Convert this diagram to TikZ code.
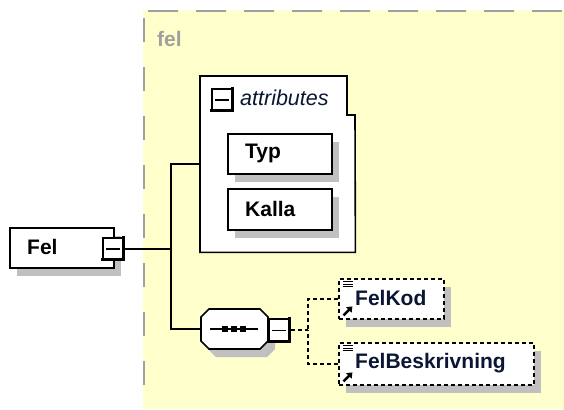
\documentclass[tikz,border=0pt]{standalone}
\usepackage{fontspec}
\setmainfont{Liberation Sans}
\usetikzlibrary{shadows,arrows.meta}

\definecolor{schemabg}{HTML}{FFFFCC}
\definecolor{framegray}{HTML}{A0A0A0}
\definecolor{shadowgray}{HTML}{C0C0C0}
\definecolor{ink}{HTML}{0A1633}

\tikzset{
  box/.style={draw=black, line width=1.6pt, fill=white, inner sep=0pt, anchor=north west},
  shadowed/.style={general shadow={fill=shadowgray, shadow xshift=7pt, shadow yshift=-8pt}},
  optbox/.style={box, line width=1.8pt, dash pattern=on 4pt off 3pt},
  elemicon/.style={path picture={
      \foreach \k in {3,5.5,8}
        \draw[solid, line width=1pt] ([xshift=4pt,yshift=-\k pt]path picture bounding box.north west) -- ++(10pt,0pt);
      \draw[solid, line width=2.4pt, -{Triangle[length=5pt,width=7.5pt]}]
        ([xshift=4.5pt,yshift=3.5pt]path picture bounding box.south west) -- ++(9pt,9pt);
  }},
  toggle/.style={box, minimum width=21pt, minimum height=22pt},
  ename/.style={font=\fontsize{21}{24}\selectfont\bfseries, text=ink, inner sep=0pt, anchor=west},
  link/.style={draw=black, line width=1.6pt},
  optlink/.style={link, line width=1.7pt, dash pattern=on 4pt off 3pt},
}

% minus sign and heavy lower-right edge of an expand/collapse button
\newcommand\togglemarks[1]{%
  \draw[line width=1.6pt] ([xshift=4pt]#1.west) -- ([xshift=-5pt]#1.east);
  \draw[line width=3.5pt] ([xshift=-1pt,yshift=0.8pt]#1.north east)
    -- ([xshift=-1pt,yshift=1pt]#1.south east) -- ([xshift=-0.8pt,yshift=1pt]#1.south west);}

\begin{document}
\begin{tikzpicture}[x=1pt, y=-1pt]
  \useasboundingbox (0,0) rectangle (564,409);

  % complex type area
  \fill[schemabg] (143,10) rectangle (564,409);
  \draw[framegray, line width=2pt, dash pattern=on 30pt off 18pt] (148,11) -- (564,11);
  \draw[framegray, line width=2pt, dash pattern=on 24pt off 25pt] (144,18) -- (144,409);
  \node[font=\fontsize{21}{24}\selectfont\bfseries, text=framegray, inner sep=0pt, anchor=west] (typename) at (157,39) {fel};

  % root element
  \node[box, shadowed, minimum width=104pt, minimum height=40pt] (fel) at (9,227) {};
  \node[ename, text=black] (feltext) at (27,247) {Fel};
  \node[toggle] (felm) at (102,237) {};
  \togglemarks{felm}

  % attributes group
  \node[inner sep=0pt, minimum width=155pt, minimum height=176pt, anchor=north west] (attr) at (200,76) {};
  \draw[fill=white, line width=1.6pt] (attr.north west) -- ++(147pt,0pt) -- ++(0pt,-39pt) -- ++(8pt,0pt)
    -- (attr.south east) -- (attr.south west) -- cycle;
  \node[toggle] (attrm) at (211,88) {};
  \togglemarks{attrm}
  \node[font=\fontsize{21.5}{24}\selectfont\itshape, text=ink, inner sep=0pt, anchor=west] (attrtext) at (240,98) {attributes};

  \node[box, shadowed, minimum width=104pt, minimum height=40pt] (typ) at (227,133) {};
  \node[ename, text=black] (typtext) at (245,153) {Typ};
  \node[box, shadowed, minimum width=104pt, minimum height=41pt] (kalla) at (227,188) {};
  \node[ename, text=black] (kallatext) at (245,209) {Kalla};

  % sequence compositor
  \node[inner sep=0pt, minimum width=67pt, minimum height=40pt, anchor=north west] (seq) at (201,309) {};
  \fill[shadowgray] (216,317) -- (267,317) -- (275,325) -- (275,349) -- (267,357) -- (216,357) -- (208,349) -- (208,325) -- cycle;
  \draw[fill=white, line width=1.6pt] (209,309) -- (260,309) -- (268,317) -- (268,341) -- (260,349) -- (209,349) -- (201,341) -- (201,317) -- cycle;
  \draw[line width=1.6pt] (210,329) -- (258,329);
  \foreach \cx in {225,234,243}
    \fill (\cx-3,326) rectangle (\cx+3,332);
  \node[toggle, minimum height=23pt] (seqm) at (268,318) {};
  \togglemarks{seqm}

  % optional child elements
  \node[optbox, shadowed, elemicon, minimum width=105pt, minimum height=40pt] (felkod) at (338,278) {};
  \node[ename] (felkodtext) at (355,298) {FelKod};
  \node[optbox, shadowed, elemicon, minimum width=195pt, minimum height=42pt] (felbesk) at (338,342) {};
  \node[ename] (felbesktext) at (355,363) {FelBeskrivning};

  % connectors
  \coordinate (trunk) at (171,0);
  \coordinate (branch) at (308,0);
  \draw[link] (felm.east) -- (felm.east -| trunk);
  \draw[link] (attr.west) -| (trunk |- seq.west) -- (seq.west);
  \draw[optlink] (seqm.east) -- (seqm.east -| branch);
  \draw[optlink] (felkod.west) -| (branch |- seqm.east);
  \draw[optlink] (felbesk.west) -| (branch |- seqm.east);
\end{tikzpicture}
\end{document}
